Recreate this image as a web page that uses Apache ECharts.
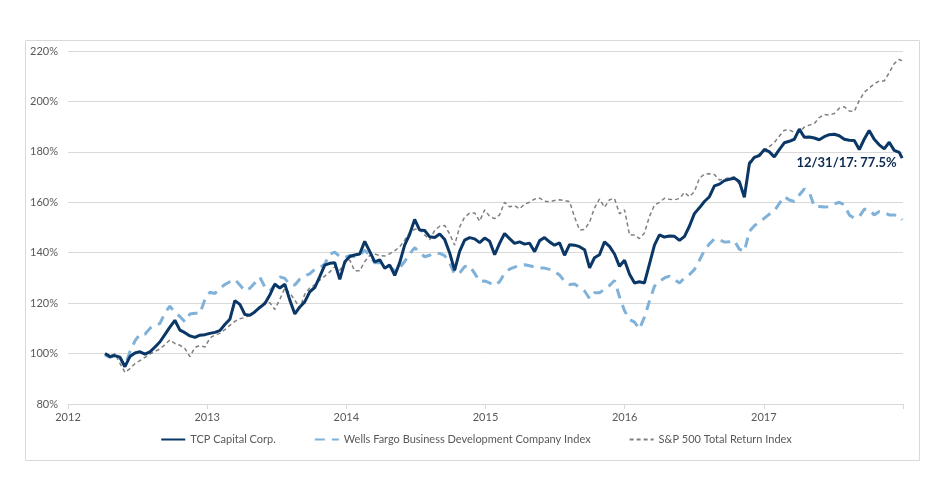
<!DOCTYPE html>
<html>
<head>
<meta charset="utf-8">
<script src="https://cdn.jsdelivr.net/npm/echarts@6/dist/echarts.min.js"></script>
<style>html,body{margin:0;padding:0;background:#fff}#c{width:952px;height:490px}</style>
</head>
<body>
<div id="c"></div>
<script>
// Dates as decimal years (approx. every 13 days)
const dates = [
2012.266,2012.302,2012.337,2012.373,2012.409,2012.445,2012.481,2012.517,2012.553,2012.589,
2012.625,2012.660,2012.696,2012.732,2012.768,2012.804,2012.840,2012.876,2012.912,2012.948,
2012.984,2013.019,2013.055,2013.091,2013.127,2013.163,2013.199,2013.235,2013.271,2013.307,
2013.342,2013.378,2013.414,2013.450,2013.486,2013.522,2013.558,2013.594,2013.630,2013.666,
2013.701,2013.737,2013.773,2013.809,2013.845,2013.881,2013.917,2013.953,2013.989,2014.025,
2014.060,2014.096,2014.132,2014.168,2014.204,2014.240,2014.276,2014.312,2014.348,2014.383,
2014.419,2014.455,2014.491,2014.527,2014.563,2014.599,2014.635,2014.671,2014.707,2014.742,
2014.778,2014.814,2014.850,2014.886,2014.922,2014.958,2014.994,2015.030,2015.066,2015.101,
2015.137,2015.173,2015.209,2015.245,2015.281,2015.317,2015.353,2015.389,2015.424,2015.460,
2015.496,2015.532,2015.568,2015.604,2015.640,2015.676,2015.712,2015.748,2015.783,2015.819,
2015.855,2015.891,2015.927,2015.963,2015.999,2016.035,2016.071,2016.106,2016.142,2016.178,
2016.214,2016.250,2016.286,2016.322,2016.358,2016.394,2016.430,2016.465,2016.501,2016.537,
2016.573,2016.609,2016.645,2016.681,2016.717,2016.752,2016.788,2016.824,2016.860,2016.896,
2016.932,2016.968,2017.004,2017.040,2017.075,2017.111,2017.147,2017.183,2017.219,2017.255,
2017.291,2017.327,2017.363,2017.398,2017.434,2017.470,2017.506,2017.542,2017.578,2017.614,
2017.650,2017.686,2017.721,2017.757,2017.793,2017.829,2017.865,2017.901,2017.937,2017.973,
2017.994
];

const tcp = [
100.0,98.8,99.2,98.6,94.8,98.8,100.2,100.7,99.8,100.7,
102.6,104.6,107.5,110.5,113.2,109.3,108.3,107.0,106.4,107.3,
107.5,108.0,108.4,109.1,111.5,113.6,121.0,119.5,115.5,115.2,
116.5,118.3,119.8,123.2,127.5,126.0,127.5,121.2,115.7,118.5,
120.5,124.5,126.2,130.5,135.1,135.8,136.0,129.4,136.4,138.5,
139.1,139.5,144.5,140.5,136.4,137.2,133.8,135.1,131.0,136.0,
143.0,147.3,153.2,149.0,148.8,146.3,146.0,147.4,145.2,140.0,
133.0,140.5,145.0,146.0,145.5,144.0,145.8,144.5,139.2,143.7,
147.6,145.6,143.7,144.3,143.4,143.8,140.4,144.8,146.0,144.3,
143.0,143.9,139.0,143.2,143.0,142.4,141.2,134.0,138.0,139.2,
144.3,142.5,139.5,134.6,137.0,131.5,128.0,128.5,128.0,135.5,
143.0,147.1,146.2,146.6,146.5,144.9,146.5,150.5,155.5,157.8,
160.3,162.2,166.5,167.2,168.6,169.1,169.5,168.2,162.0,175.3,
177.8,178.5,181.0,180.0,178.0,180.9,183.6,184.2,185.0,189.0,
185.8,185.9,185.5,184.8,186.0,186.8,187.0,186.4,185.0,184.6,
184.5,180.9,185.0,188.5,185.0,182.8,181.2,183.8,180.6,179.8,
177.5
];

const wellsFargo = [
99.5,98.5,99.5,98.5,94.8,100.7,105.0,107.7,107.7,110.0,
111.3,111.9,116.0,118.8,116.2,114.7,112.6,115.7,116.0,115.9,
121.5,124.3,123.8,125.8,127.4,128.5,129.4,127.2,124.9,125.9,
128.0,130.3,126.5,124.8,127.2,130.4,129.8,127.3,127.2,129.6,
130.9,131.6,133.4,134.0,135.5,139.5,140.2,138.5,138.0,138.9,
138.5,139.0,141.0,139.0,136.0,136.0,135.7,134.5,132.8,134.0,
136.5,139.5,142.0,140.0,138.4,139.0,140.0,139.7,138.8,136.0,
131.5,131.9,134.5,134.8,131.8,128.6,128.8,128.0,127.0,128.5,
131.8,133.5,134.3,134.9,135.2,134.8,134.3,133.9,133.9,133.4,
132.5,131.2,128.6,127.4,127.6,126.2,124.8,121.8,124.1,124.1,
125.5,127.0,129.0,122.5,117.0,113.5,112.5,109.7,114.5,120.8,
126.7,128.7,130.0,130.7,129.3,128.0,130.0,131.3,133.3,137.0,
140.9,143.5,145.5,145.2,144.2,144.3,144.8,141.4,140.5,148.5,
150.7,152.3,153.7,155.3,156.5,159.5,162.3,160.9,160.3,162.9,
165.3,164.0,158.3,158.3,158.1,158.2,159.3,160.0,159.0,155.0,
153.7,154.3,157.2,157.2,155.0,156.3,155.9,155.0,155.0,154.5,
153.0
];

const sp500 = [
99.8,99.0,100.0,96.2,92.5,94.0,96.0,97.2,98.5,99.8,
100.9,101.8,103.5,105.4,104.0,103.3,102.0,98.8,102.4,103.2,
102.6,106.1,107.4,108.0,109.5,111.2,112.8,113.8,114.3,115.2,
116.5,118.5,120.5,120.2,117.5,121.5,125.9,124.0,121.2,118.0,
123.5,126.0,127.2,129.1,130.7,132.4,134.4,133.1,135.8,137.1,
132.8,132.8,136.5,138.9,139.5,138.8,138.7,139.6,140.8,142.3,
145.0,148.0,149.3,149.3,147.0,145.2,148.9,150.5,150.8,147.5,
143.0,150.2,154.1,155.7,155.8,152.5,157.0,154.4,153.5,155.0,
160.0,158.2,158.7,157.4,159.3,160.0,161.3,161.7,160.4,160.2,
160.7,161.0,160.7,160.3,154.1,149.0,149.2,152.2,157.7,161.3,
158.0,161.0,161.5,155.4,157.0,147.0,147.0,145.6,147.8,154.4,
158.9,160.0,161.6,161.2,161.0,161.5,163.9,162.2,164.2,169.5,
171.2,171.3,171.0,168.8,169.2,169.8,170.1,167.0,164.0,176.2,
178.1,179.2,180.4,182.1,183.7,186.2,188.6,188.7,187.7,187.8,
189.8,190.6,191.2,193.6,194.8,194.6,195.2,197.3,197.9,196.2,
196.1,200.4,203.6,205.3,206.9,208.1,208.1,211.4,215.0,216.7,
216.0
];

const seriesNames = ['TCP Capital Corp.', 'Wells Fargo Business Development Company Index', 'S&P 500 Total Return Index'];
const endLabel = '12/31/17: 77.5%';
const yTicks = { min: 80, max: 220, step: 20 };
const xTicks = { min: 2012, max: 2018, step: 1 };

function pairs(vals) { return vals.map((v, i) => [dates[i], v]); }

const last = tcp.length - 1;

const chart = echarts.init(document.getElementById('c'), null, { renderer: 'canvas' });
const axisTextColor = '#595959';
chart.setOption({
  animation: false,
  textStyle: { fontFamily: 'Lato' },
  graphic: [{
    type: 'rect', left: 23, top: 38, z: -1,
    shape: { width: 894, height: 420 },
    style: { fill: 'none', stroke: '#d9d9d9', lineWidth: 1 }
  }],
  grid: { left: 68, right: 49, top: 51, bottom: 86, containLabel: false },
  legend: {
    bottom: 40, left: 'center', itemGap: 38, itemWidth: 24, itemHeight: 10,
    itemStyle: { opacity: 0 },
    textStyle: { color: axisTextColor, fontSize: 11, fontFamily: 'Lato' },
    data: seriesNames
  },
  xAxis: {
    type: 'value', min: xTicks.min, max: xTicks.max, interval: xTicks.step,
    axisLine: { show: true, lineStyle: { color: '#d9d9d9' } },
    axisTick: { show: true, length: 5, lineStyle: { color: '#d9d9d9' } },
    splitLine: { show: false },
    axisLabel: {
      color: axisTextColor, fontSize: 11, margin: 8,
      formatter: v => (v >= xTicks.max ? '' : String(v))
    }
  },
  yAxis: {
    type: 'value', min: yTicks.min, max: yTicks.max, interval: yTicks.step,
    axisLine: { show: false }, axisTick: { show: false },
    splitLine: { lineStyle: { color: '#d9d9d9' } },
    axisLabel: { color: axisTextColor, fontSize: 11, margin: 10, formatter: '{value}%' }
  },
  series: [
    {
      name: seriesNames[1], type: 'line', data: pairs(wellsFargo), symbol: 'none', z: 2,
      lineStyle: { color: '#7fb1d9', width: 3, type: [10, 7] },
      itemStyle: { color: '#7fb1d9' }
    },
    {
      name: seriesNames[2], type: 'line', data: pairs(sp500), symbol: 'none', z: 3,
      lineStyle: { color: '#808080', width: 1.5, type: [4, 3] },
      itemStyle: { color: '#808080' }
    },
    {
      name: seriesNames[0], type: 'line', data: pairs(tcp), symbol: 'none', z: 4,
      lineStyle: { color: '#0b3766', width: 3 },
      itemStyle: { color: '#0b3766' },
      markPoint: {
        symbol: 'circle', symbolSize: 1, silent: true,
        itemStyle: { color: 'rgba(0,0,0,0)' },
        data: [{ coord: [dates[last], tcp[last]] }],
        label: {
          show: true, position: 'left', distance: 5, offset: [0, 5],
          formatter: endLabel,
          color: '#0c2a52', fontFamily: 'Lato', fontSize: 13, fontWeight: 'bold'
        }
      }
    }
  ]
});
</script>
</body>
</html>
